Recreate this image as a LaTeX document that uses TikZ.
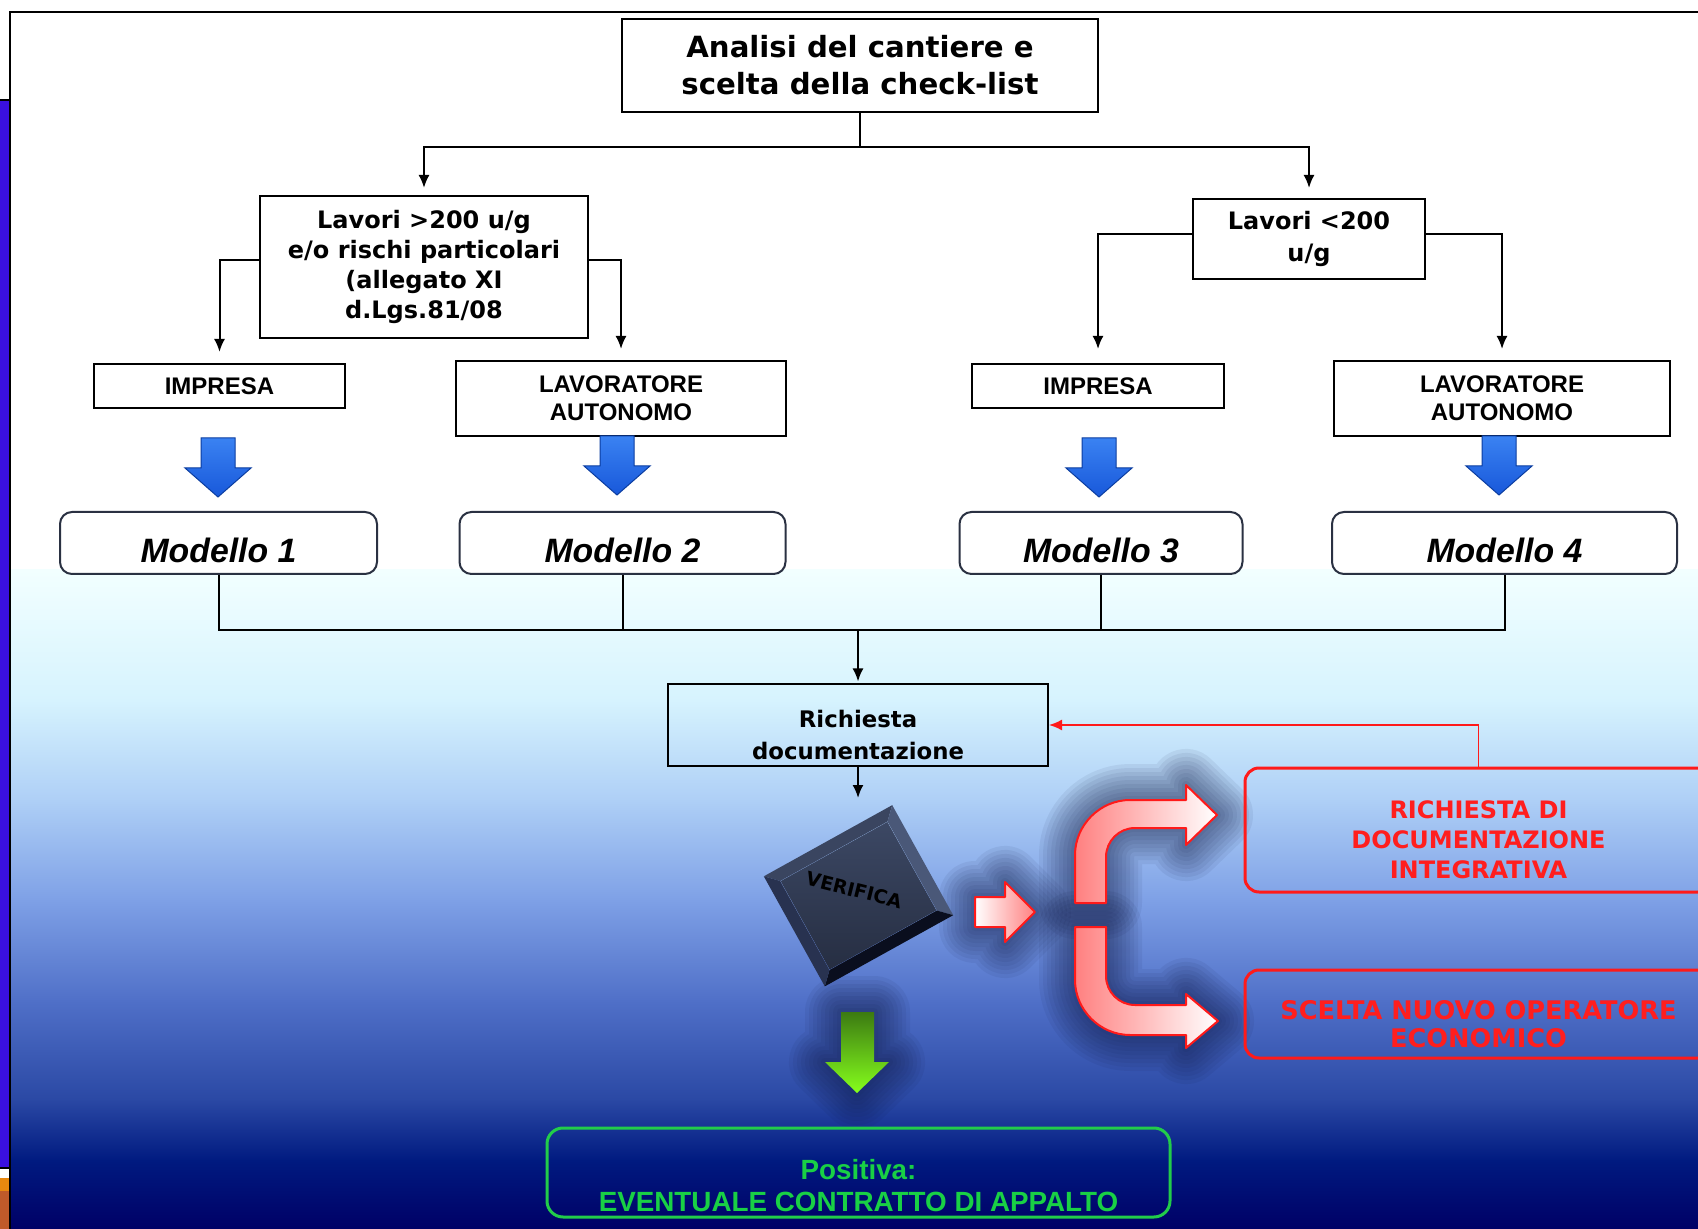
\documentclass[tikz,border=0pt]{standalone}
\usepackage{fontspec}
\setmainfont{Liberation Sans}
\newfontfamily\heavy{DejaVu Sans}
\usepackage{tikz}
\usetikzlibrary{arrows.meta,positioning}
\definecolor{stripblue}{HTML}{3A10E0}
\definecolor{stripor}{HTML}{E8880F}
\definecolor{stripbr}{HTML}{C05A2A}
\definecolor{bgA}{HTML}{F2FFFF}
\definecolor{bgB}{HTML}{D6F3FE}
\definecolor{bgC}{HTML}{AECFF6}
\definecolor{bgD}{HTML}{7EA0E6}
\definecolor{bgE}{HTML}{5070C8}
\definecolor{bgF}{HTML}{2A48A4}
\definecolor{bgG}{HTML}{001A80}
\definecolor{bgH}{HTML}{000066}
\definecolor{arrowtop}{HTML}{3A82F2}
\definecolor{arrowblue}{HTML}{1858DA}
\definecolor{arrowedge}{HTML}{0B3DA0}
\definecolor{modeledge}{HTML}{2A3142}
\definecolor{redline}{HTML}{FF1A1A}
\definecolor{redtext}{HTML}{FF1E1E}
\definecolor{pinkfill}{HTML}{FF8080}
\definecolor{glow}{HTML}{0E1640}
\definecolor{greenline}{HTML}{22CC4A}
\definecolor{greentext}{HTML}{19D045}
\definecolor{greentop}{HTML}{3C7A12}
\definecolor{greenbot}{HTML}{86FF1C}
\definecolor{slateA}{HTML}{3C4864}
\definecolor{slateB}{HTML}{262E42}
\definecolor{slatetop}{HTML}{3A4560}
\definecolor{slateright}{HTML}{4A5878}
\definecolor{slatebottom}{HTML}{0A0E1E}
\definecolor{slateleft}{HTML}{283250}

\tikzset{
  box/.style={draw=black, line width=1pt, fill=white, align=center, inner sep=0pt},
  headbox/.style={box, font=\heavy\bfseries\fontsize{14.6}{18.5}\selectfont},
  lavbox/.style={box, font=\heavy\bfseries\fontsize{12}{15}\selectfont},
  capsbox/.style={box, font=\bfseries\fontsize{12}{14}\selectfont},
  modelbox/.style={box, draw=modeledge, rounded corners=6pt, text height=20pt, text depth=0pt,
    font=\bfseries\itshape\fontsize{16.9}{20}\selectfont},
  redbox/.style={draw=redline, line width=1.5pt, rounded corners=7pt, align=center, inner sep=0pt,
    text=redtext, text depth=0pt},
  link/.style={line width=1pt, -{Latex[length=6.5pt,width=5.5pt]}},
  wire/.style={line width=1pt},
  redlink/.style={draw=redline, line width=0.8pt, -{Latex[length=6.5pt,width=5.5pt]}},
  bluearrow/.style={draw=arrowedge, line width=0.5pt, top color=arrowtop, bottom color=arrowblue},
  redarrow/.style={draw=redline, line width=1pt, line join=round},
  glowline/.style={draw=glow, line join=round, line cap=round, opacity=#1}
}

\begin{document}
\begin{tikzpicture}[x=0.5pt,y=-0.5pt]
  \useasboundingbox (0,0) rectangle (1698,1229);
  \fill[white] (0,0) rectangle (1698,1229);
  \foreach \ca/\cb/\ya/\yb in {bgA/bgB/570/701, bgB/bgC/700/801, bgC/bgD/800/901,
      bgD/bgE/900/1001, bgE/bgF/1000/1101, bgF/bgG/1100/1161, bgG/bgH/1160/1229}
    \shade[top color=\ca, bottom color=\cb] (10,\ya) rectangle (1698,\yb);
  \fill[stripblue] (0,100) rectangle (10,1168);
  \fill[stripor] (0,1178) rectangle (10,1191);
  \fill[stripbr] (0,1191) rectangle (10,1229);
  \draw[line width=0.8pt] (0,100) -- (10,100) (0,1168) -- (10,1168);
  \draw[line width=0.8pt] (10,1229) -- (10,12) -- (1698,12);

  \node[headbox, minimum width=238pt, minimum height=46.5pt] (analisi) at (860,65.5)
    {Analisi del cantiere e\\scelta della check-list};
  \node[lavbox, minimum width=164pt, minimum height=71pt] (grandi) at (424,267)
    {Lavori >200 u/g\\e/o rischi particolari\\(allegato XI\\d.Lgs.81/08};
  \node[lavbox, font=\heavy\bfseries\fontsize{12}{16}\selectfont, minimum width=116pt, minimum height=40pt] (piccoli) at (1309,239)
    {Lavori <200\\u/g};

  \node[capsbox, minimum width=125.5pt, minimum height=22pt] (impresaA) at (219.5,386) {IMPRESA};
  \node[capsbox, minimum width=165pt, minimum height=37.5pt] (autonomoA) at (621,398.5) {LAVORATORE\\AUTONOMO};
  \node[capsbox, minimum width=126pt, minimum height=22pt] (impresaB) at (1098,386) {IMPRESA};
  \node[capsbox, minimum width=168pt, minimum height=37.5pt] (autonomoB) at (1502,398.5) {LAVORATORE\\AUTONOMO};

  \foreach \cx/\ty in {218/438, 617/436, 1099/438, 1499/436}
    \shadedraw[bluearrow] (\cx-17,\ty) -- (\cx+17,\ty) -- (\cx+17,\ty+30) -- (\cx+33,\ty+30)
      -- (\cx,\ty+59) -- (\cx-33,\ty+30) -- (\cx-17,\ty+30) -- cycle;

  \node[modelbox, minimum width=158.5pt, minimum height=31pt] (modelloA) at (218.5,543) {Modello 1};
  \node[modelbox, minimum width=163pt, minimum height=31pt] (modelloB) at (622.5,543) {Modello 2};
  \node[modelbox, minimum width=141.5pt, minimum height=31pt] (modelloC) at (1101,543) {Modello 3};
  \node[modelbox, minimum width=172.5pt, minimum height=31pt] (modelloD) at (1504.5,543) {Modello 4};

  \node[draw=black, line width=1pt, align=center, inner sep=0pt, minimum width=190pt, minimum height=40.5pt,
    text height=34.7pt, text depth=0pt, font=\heavy\bfseries\fontsize{11.4}{16}\selectfont] (richiesta) at (858,725)
    {Richiesta\\documentazione};

  \draw[link, shorten >=3.5pt] (analisi.south) -- ++(0,34) -| (grandi);
  \draw[link, shorten >=5pt] (analisi.south) -- ++(0,34) -| (piccoli);
  \draw[link, shorten >=5.5pt] ([yshift=3.5pt]grandi.west) -| (impresaA);
  \draw[link, shorten >=5.5pt] ([yshift=3.5pt]grandi.east) -| (autonomoA);
  \draw[link, shorten >=7pt] ([yshift=2.5pt]piccoli.west) -| (impresaB);
  \draw[link, shorten >=5.5pt] ([yshift=2.5pt]piccoli.east) -| (autonomoB);

  \coordinate (giunto) at (858,630);
  \foreach \m in {modelloA,modelloB,modelloC,modelloD}
    \draw[wire] (\m.south) |- (giunto);
  \draw[link, shorten >=1pt] (giunto) -- (richiesta.north);
  \coordinate (verificain) at (858,798);
  \draw[link] (richiesta.south) -- (verificain);

  % glows
  \foreach \w in {36,32,...,4} {
    \draw[glowline=0.065, line width=\w pt] (975,897) -- (1005,897) -- (1005,882) -- (1035,912)
      -- (1005,942) -- (1005,927) -- (975,927) -- cycle;
    \draw[glowline=0.065, line width=\w pt] (1075,903) -- (1075,855) .. controls (1075,825) and (1100,800) .. (1130,800)
      -- (1186,800) -- (1186,785) -- (1217,815) -- (1186,845) -- (1186,828) -- (1135,828)
      .. controls (1119,828) and (1106,841) .. (1106,857) -- (1106,903) -- cycle;
    \draw[glowline=0.065, line width=\w pt] (1075,927) -- (1075,980) .. controls (1075,1010) and (1100,1035) .. (1130,1035)
      -- (1186,1035) -- (1186,1048) -- (1218,1021) -- (1186,994) -- (1186,1005) -- (1135,1005)
      .. controls (1119,1005) and (1106,992) .. (1106,976) -- (1106,927) -- cycle;
    \draw[glowline=0.065, line width=\w pt] (841,1012) -- (874,1012) -- (874,1062) -- (889,1062)
      -- (857,1093) -- (825,1062) -- (841,1062) -- cycle;
  }
  \shadedraw[redarrow, left color=white, right color=pinkfill] (975,897) -- (1005,897) -- (1005,882) -- (1035,912)
      -- (1005,942) -- (1005,927) -- (975,927) -- cycle;
  \shadedraw[redarrow, left color=pinkfill, right color=white] (1075,903) -- (1075,855) .. controls (1075,825) and (1100,800) .. (1130,800)
      -- (1186,800) -- (1186,785) -- (1217,815) -- (1186,845) -- (1186,828) -- (1135,828)
      .. controls (1119,828) and (1106,841) .. (1106,857) -- (1106,903) -- cycle;
  \shadedraw[redarrow, left color=pinkfill, right color=white] (1075,927) -- (1075,980) .. controls (1075,1010) and (1100,1035) .. (1130,1035)
      -- (1186,1035) -- (1186,1048) -- (1218,1021) -- (1186,994) -- (1186,1005) -- (1135,1005)
      .. controls (1119,1005) and (1106,992) .. (1106,976) -- (1106,927) -- cycle;
  \shade[top color=greentop, bottom color=greenbot] (841,1012) -- (874,1012) -- (874,1062) -- (889,1062)
      -- (857,1093) -- (825,1062) -- (841,1062) -- cycle;

  \node[rotate=29, minimum width=73pt, minimum height=62.5pt, inner sep=0pt] (verifica) at (858.5,895.75) {};
  \node[rotate=29, minimum width=61pt, minimum height=50.5pt, inner sep=0pt, top color=slateA, bottom color=slateB] (faccia) at (verifica) {};
  \fill[slatetop] (verifica.north west) -- (verifica.north east) -- (faccia.north east) -- (faccia.north west) -- cycle;
  \fill[slateright] (verifica.north east) -- (verifica.south east) -- (faccia.south east) -- (faccia.north east) -- cycle;
  \fill[slatebottom] (verifica.south east) -- (verifica.south west) -- (faccia.south west) -- (faccia.south east) -- cycle;
  \fill[slateleft] (verifica.south west) -- (verifica.north west) -- (faccia.north west) -- (faccia.south west) -- cycle;
  \node[rotate=-14, font=\heavy\bfseries\fontsize{9.5}{11}\selectfont] (verificatxt) at (854,890) {VERIFICA};

  \node[redbox, minimum width=233.5pt, minimum height=62pt, text height=48.75pt,
    font=\heavy\bfseries\fontsize{12}{15}\selectfont] (integrativa) at (1478.5,830)
    {RICHIESTA DI\\DOCUMENTAZIONE\\INTEGRATIVA};
  \node[redbox, minimum width=233.5pt, minimum height=44pt, text height=33.3pt,
    font=\heavy\bfseries\fontsize{12.8}{14}\selectfont] (operatore) at (1478.5,1014)
    {SCELTA NUOVO OPERATORE\\ECONOMICO};
  \draw[redlink] (integrativa.north) |- (richiesta.east);

  \node[draw=greenline, line width=1.5pt, rounded corners=8pt, minimum width=311.5pt, minimum height=44.5pt,
    inner sep=0pt, align=center, text=greentext, text height=38.7pt, text depth=0pt,
    font=\bfseries\fontsize{13.9}{16}\selectfont] (appalto) at (858.5,1172.5)
    {Positiva:\\EVENTUALE CONTRATTO DI APPALTO};
\end{tikzpicture}
\end{document}
